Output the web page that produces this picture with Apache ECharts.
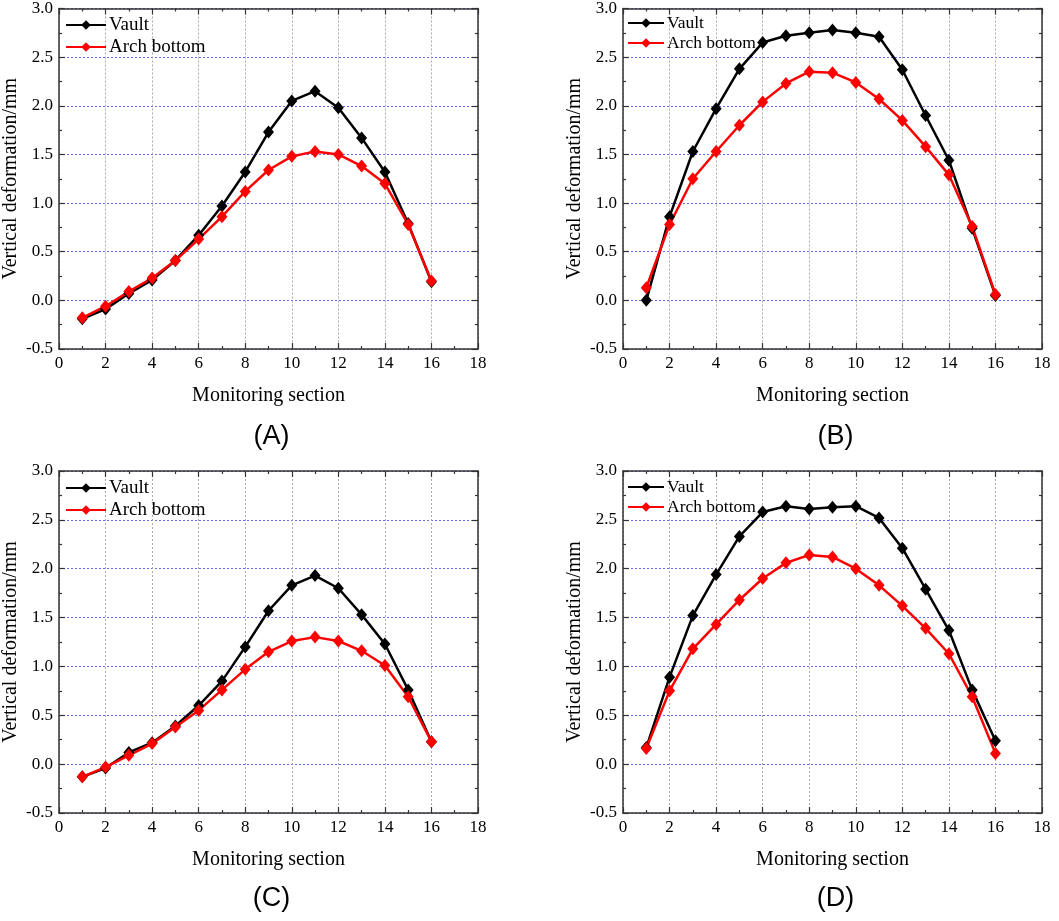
<!DOCTYPE html>
<html>
<head>
<meta charset="utf-8">
<title>Vertical deformation</title>
<script src="https://cdn.jsdelivr.net/npm/echarts@6/dist/echarts.min.js"></script>
<style>
  html, body { margin: 0; padding: 0; background: #fff; }
  #main { width: 1059px; height: 921px; }
</style>
</head>
<body>
<div id="main"></div>
<script>
// 监测断面
var sections = [1, 2, 3, 4, 5, 6, 7, 8, 9, 10, 11, 12, 13, 14, 15, 16];

// (A)
var vaultA = [-0.19, -0.09, 0.07, 0.21, 0.41, 0.67, 0.97, 1.32, 1.73, 2.05, 2.15, 1.98, 1.67, 1.32, 0.79, 0.19];
var archA  = [-0.18, -0.06, 0.09, 0.23, 0.41, 0.63, 0.86, 1.12, 1.34, 1.48, 1.53, 1.50, 1.38, 1.20, 0.78, 0.20];
// (B)
var vaultB = [0.00, 0.86, 1.53, 1.97, 2.38, 2.65, 2.72, 2.75, 2.78, 2.75, 2.71, 2.37, 1.90, 1.44, 0.74, 0.05];
var archB  = [0.13, 0.78, 1.25, 1.53, 1.80, 2.04, 2.23, 2.35, 2.34, 2.24, 2.07, 1.85, 1.58, 1.29, 0.76, 0.06];
// (C)
var vaultC = [-0.13, -0.04, 0.12, 0.22, 0.39, 0.60, 0.85, 1.20, 1.57, 1.83, 1.93, 1.80, 1.53, 1.23, 0.76, 0.23];
var archC  = [-0.13, -0.03, 0.09, 0.21, 0.38, 0.55, 0.76, 0.97, 1.15, 1.26, 1.30, 1.26, 1.16, 1.01, 0.69, 0.23];
// (D)
var vaultD = [0.17, 0.89, 1.52, 1.94, 2.33, 2.58, 2.64, 2.61, 2.63, 2.64, 2.52, 2.21, 1.79, 1.37, 0.76, 0.24];
var archD  = [0.16, 0.75, 1.18, 1.43, 1.68, 1.90, 2.06, 2.14, 2.12, 2.00, 1.83, 1.62, 1.39, 1.13, 0.69, 0.11];

var seriesNames = ['Vault', 'Arch bottom'];
var panelLabels = ['(A)', '(B)', '(C)', '(D)'];
var xTicks = { min: 0, max: 18, interval: 2 };
var yTicks = { min: -0.5, max: 3.0, interval: 0.5 };

var serif = 'Liberation Serif';
var frameColor = '#333';

// 四个子图的位置
var panels = [
  { left: 59, top: 7,   vault: vaultA, arch: archA, legendLeft: 65,  legendTop: 15,  legendW: 40, legendFont: 19,   legendLine: 20, labelDy: 88 },
  { left: 623, top: 7,  vault: vaultB, arch: archB, legendLeft: 627, legendTop: 14,  legendW: 36, legendFont: 17.5, legendLine: 18, labelDy: 88 },
  { left: 59, top: 471, vault: vaultC, arch: archC, legendLeft: 65,  legendTop: 478, legendW: 40, legendFont: 19,   legendLine: 20, labelDy: 86 },
  { left: 623, top: 471, vault: vaultD, arch: archD, legendLeft: 627, legendTop: 478, legendW: 36, legendFont: 17.5, legendLine: 17, labelDy: 86 }
];
var plotW = 419, plotH = 342;

function pairs(ys) {
  var out = [];
  for (var i = 0; i < sections.length; i++) {
    out.push([sections[i], ys[i]]);
  }
  return out;
}

var grid = [], xAxis = [], yAxis = [], series = [], legend = [], graphic = [];

for (var p = 0; p < panels.length; p++) {
  var pn = panels[p];
  grid.push({ left: pn.left, top: pn.top, width: plotW, height: plotH, containLabel: false });

  // 下方 x 轴
  xAxis.push({
    type: 'value', gridIndex: p, position: 'bottom',
    min: xTicks.min, max: xTicks.max, interval: xTicks.interval,
    name: 'Monitoring section', nameLocation: 'middle', nameGap: 37,
    nameTextStyle: { fontFamily: serif, fontSize: 20, color: '#000' },
    axisLine: { show: true, onZero: false, lineStyle: { color: frameColor, width: 1.5 } },
    axisTick: { show: true, inside: true, length: 6, lineStyle: { color: frameColor, width: 1.2 } },
    minorTick: { show: true, splitNumber: 2, length: 3, lineStyle: { color: frameColor, width: 1.2 } },
    axisLabel: { margin: 6, fontFamily: serif, fontSize: 17, color: '#000' },
    splitLine: { show: true, lineStyle: { color: '#aaa', type: [2, 2], width: 1 } }
  });
  // 上方镜像 x 轴
  xAxis.push({
    type: 'value', gridIndex: p, position: 'top',
    min: xTicks.min, max: xTicks.max, interval: xTicks.interval,
    axisLine: { show: true, onZero: false, lineStyle: { color: frameColor, width: 1.5 } },
    axisTick: { show: true, inside: true, length: 6, lineStyle: { color: frameColor, width: 1.2 } },
    minorTick: { show: true, splitNumber: 2, length: 3, lineStyle: { color: frameColor, width: 1.2 } },
    axisLabel: { show: false },
    splitLine: { show: false }
  });
  // 左侧 y 轴
  yAxis.push({
    type: 'value', gridIndex: p, position: 'left',
    min: yTicks.min, max: yTicks.max, interval: yTicks.interval,
    name: 'Vertical deformation/mm', nameLocation: 'middle', nameGap: 38, nameRotate: 90,
    nameTextStyle: { fontFamily: serif, fontSize: 20, color: '#000' },
    axisLine: { show: true, onZero: false, lineStyle: { color: frameColor, width: 1.5 } },
    axisTick: { show: true, inside: true, length: 6, lineStyle: { color: frameColor, width: 1.2 } },
    minorTick: { show: true, splitNumber: 2, length: 3, lineStyle: { color: frameColor, width: 1.2 } },
    axisLabel: { margin: 6, fontFamily: serif, fontSize: 17, color: '#000',
      formatter: function (v) { return v.toFixed(1); } },
    splitLine: { show: true, lineStyle: { color: '#6b6bf0', type: [2, 2], width: 1 } }
  });
  // 右侧镜像 y 轴
  yAxis.push({
    type: 'value', gridIndex: p, position: 'right',
    min: yTicks.min, max: yTicks.max, interval: yTicks.interval,
    axisLine: { show: true, onZero: false, lineStyle: { color: frameColor, width: 1.5 } },
    axisTick: { show: true, inside: true, length: 6, lineStyle: { color: frameColor, width: 1.2 } },
    minorTick: { show: true, splitNumber: 2, length: 3, lineStyle: { color: frameColor, width: 1.2 } },
    axisLabel: { show: false },
    splitLine: { show: false }
  });

  series.push({
    name: seriesNames[0], type: 'line', xAxisIndex: p * 2, yAxisIndex: p * 2,
    data: pairs(pn.vault),
    symbol: 'diamond', symbolSize: [11, 13], showAllSymbol: true,
    lineStyle: { color: '#000', width: 2.5 }, itemStyle: { color: '#000' }
  });
  series.push({
    name: seriesNames[1], type: 'line', xAxisIndex: p * 2, yAxisIndex: p * 2,
    data: pairs(pn.arch),
    symbol: 'diamond', symbolSize: [11, 13], showAllSymbol: true,
    lineStyle: { color: '#ff0000', width: 2.5 }, itemStyle: { color: '#ff0000' }
  });

  legend.push({
    data: seriesNames, orient: 'vertical',
    left: pn.legendLeft, top: pn.legendTop, padding: 0,
    itemWidth: pn.legendW, itemHeight: 12, itemGap: 2,
    textStyle: { fontFamily: serif, fontSize: pn.legendFont, lineHeight: pn.legendLine,
      color: '#000', padding: [0, 0, 0, -2] },
    selectedMode: false
  });

  // 子图编号
  graphic.push({
    type: 'text',
    x: pn.left + plotW / 2 + 3,
    y: pn.top + plotH + pn.labelDy,
    style: {
      text: panelLabels[p], fontFamily: 'Liberation Sans', fontSize: 27,
      fill: '#000', textAlign: 'center', textVerticalAlign: 'middle'
    }
  });
}

var myChart = echarts.init(document.getElementById('main'));
myChart.setOption({
  animation: false,
  backgroundColor: '#fff',
  grid: grid,
  xAxis: xAxis,
  yAxis: yAxis,
  legend: legend,
  graphic: graphic,
  series: series
});
</script>
</body>
</html>
